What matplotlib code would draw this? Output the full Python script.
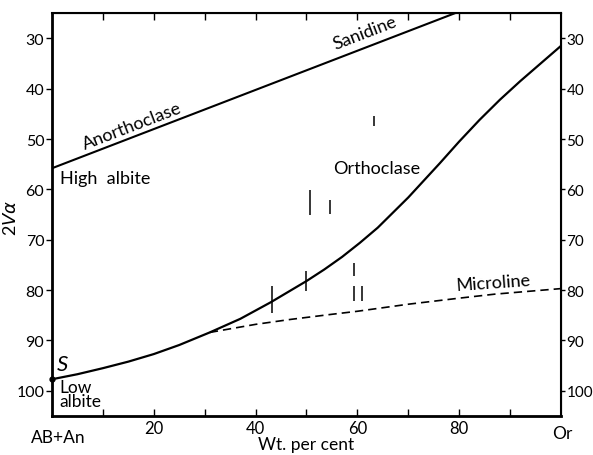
import numpy as np
import matplotlib
matplotlib.use('Agg')
import matplotlib.pyplot as plt

plt.rcParams['font.family'] = ['Lato', 'DejaVu Sans']

# upper line (anorthoclase -> sanidine)
san_x = [0, 79.2]
san_y = [55.8, 25]

# orthoclase curve
orth_x = [0, 5, 10, 15, 20, 25, 31, 37, 43, 46.5, 50, 53.5, 57, 60.5, 64,
          70, 76.2, 80, 84, 88, 92, 96, 100]
orth_y = [97.7, 96.7, 95.5, 94.2, 92.7, 90.9, 88.4, 85.7, 82.4, 80.3, 78.2, 75.9, 73.4, 70.6, 67.6,
          61.6, 54.8, 50.5, 46.2, 42.2, 38.5, 35.0, 31.5]

# microcline dashed branch
mic_x = [31, 40, 47, 55, 60, 70, 80, 87, 100]
mic_y = [88.4, 86.8, 85.8, 84.8, 84.2, 82.8, 81.6, 80.8, 79.7]

# measured ranges (vertical bars)
bar_x = [43.2, 50.0, 50.7, 54.6, 59.4, 59.4, 60.9, 63.3]
bar_lo = [79.2, 76.2, 60.2, 62.1, 74.6, 79.2, 79.2, 45.5]
bar_hi = [84.6, 80.2, 65.1, 64.9, 77.2, 82.2, 82.2, 47.5]

yticks = [30, 40, 50, 60, 70, 80, 90, 100]
xticks = [20, 40, 60, 80]

fig = plt.figure(figsize=(5.93, 4.56), dpi=100)
ax = fig.add_axes([0.0877, 0.0855, 0.8583, 0.8835])

ax.plot(san_x, san_y, color='black', lw=1.5)
ax.plot(orth_x, orth_y, color='black', lw=1.6)
ax.plot(mic_x, mic_y, color='black', lw=1.2, ls=(0, (5, 3)))
ax.vlines(bar_x, bar_lo, bar_hi, color='black', lw=1.1)
ax.plot([0], [97.7], 'o', ms=3.5, color='black', clip_on=False)

ax.set_xlim(0, 100)
ax.set_ylim(105, 25)
ax.set_yticks(yticks)
ax.set_xticks(xticks)
ax.set_xticks(range(10, 100, 10), minor=True)
ax.tick_params(axis='y', direction='out', length=4, width=1, labelsize=11.5, pad=1.5)
ax.tick_params(axis='x', which='both', direction='in', length=5, width=1,
               labelsize=12, top=True, pad=3)
for s in ['left', 'bottom']:
    ax.spines[s].set_linewidth(2)
for s in ['top', 'right']:
    ax.spines[s].set_linewidth(1.5)

ax2 = ax.twinx()
ax2.set_ylim(105, 25)
ax2.set_yticks(yticks)
ax2.tick_params(axis='y', direction='out', length=3, width=1, labelsize=11, pad=1)

ax.set_ylabel(r'2$V\alpha$', fontsize=13)
ax.yaxis.set_label_coords(-0.065, 0.494)
ax.set_xlabel('Wt. per cent', fontsize=12.5, labelpad=0)

ax.text(15.7, 47.3, 'Anorthoclase', fontsize=13, rotation=21, ha='center', va='center')
ax.text(61.5, 28.8, 'Sanidine', fontsize=13, rotation=21, ha='center', va='center')
ax.text(1.5, 57.8, 'High  albite', fontsize=13, ha='left', va='center')
ax.text(55.2, 55.8, 'Orthoclase', fontsize=13, ha='left', va='center')
ax.text(86.6, 78.4, 'Microline', fontsize=13, rotation=4, ha='center', va='center')
ax.text(1.0, 94.6, 'S', fontsize=16, style='italic', ha='left', va='center')
ax.text(1.4, 100.7, 'Low\nalbite', fontsize=12.5, ha='left', va='center', linespacing=0.85)
ax.text(1.2, 109.1, 'AB+An', fontsize=12.5, ha='center', va='center', clip_on=False)
ax.text(100.3, 108.4, 'Or', fontsize=12.5, ha='center', va='center', clip_on=False)

fig.savefig('out.png', dpi=100)
